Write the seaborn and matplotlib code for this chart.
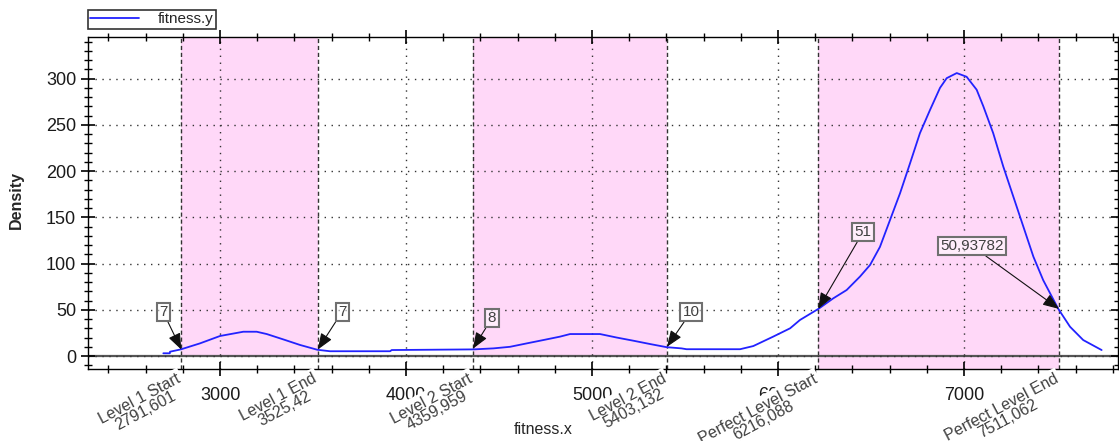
import matplotlib
matplotlib.use("Agg")
import matplotlib.pyplot as plt
import matplotlib.transforms as mtransforms
from matplotlib.ticker import MultipleLocator
import seaborn as sns

# density curve
fitness_x = [2695, 2730, 2731, 2789, 2892, 3000, 3125, 3197, 3251, 3340, 3430, 3523,
             3591, 3914, 3923, 4362, 4470, 4559, 4649, 4738, 4828, 4882, 5043, 5133,
             5222, 5312, 5401, 5481, 5508, 5796, 5867, 5974, 6065, 6118, 6217, 6297,
             6369, 6441, 6495, 6548, 6602, 6656, 6710, 6763, 6817, 6871, 6907, 6961,
             7014, 7068, 7104, 7157, 7211, 7265, 7319, 7373, 7426, 7507, 7570, 7641,
             7740]
fitness_y = [3, 3, 4.7, 7.2, 13.7, 21.7, 26.3, 26.3, 23.8, 18, 12, 6.8,
             5.2, 5.2, 6.5, 7.2, 8.3, 10, 13.7, 17.3, 21, 23.8, 23.8, 20,
             16.6, 13, 9.6, 8.3, 7.4, 7.4, 10.8, 21, 30, 39, 51, 62.4,
             71.4, 86, 98.5, 118, 147, 176, 208.5, 241, 266, 290, 300.5, 306,
             302, 288, 270, 241, 205, 172.5, 140, 107.5, 82, 51, 31.7, 17.3,
             6.5]

# levels
level_names = ["Level 1 Start", "Level 1 End", "Level 2 Start", "Level 2 End",
               "Perfect Level Start", "Perfect Level End"]
level_x = [2791.601, 3525.42, 4359.959, 5403.132, 6216.088, 7511.062]
level_lbl = ["2791,601", "3525,42", "4359,959", "5403,132", "6216,088", "7511,062"]

# boxed value annotations
note_text = ["7", "7", "8", "10", "51", "50,93782"]
note_y = [7, 7, 8, 10, 51, 50.93782]
note_tx = [2694, 3656, 4462, 5532, 6457, 7043]
note_ty = [47.7, 47.7, 41, 47.7, 134, 119]

sns.set_style("ticks")
plt.rcParams["font.family"] = ["Liberation Sans", "DejaVu Sans"]

fig = plt.figure(figsize=(11.19, 4.41), dpi=100)
ax = fig.add_axes([88/1119, 1-369/441, 1030/1119, 332/441])

pink = "#ffd8f8"
ax.axvspan(level_x[0], level_x[1], ymin=14/359, color=pink, lw=0, zorder=0)
ax.axvspan(level_x[2], level_x[3], ymin=14/359, color=pink, lw=0, zorder=0)
ax.axvspan(level_x[4], level_x[5], color=pink, lw=0, zorder=0)
for lx in level_x:
    ax.axvline(lx, color="#333333", ls=(0, (3, 2)), lw=1, zorder=1)

ax.axhline(0, color="#555555", lw=1.6, zorder=1)

sns.lineplot(x=fitness_x, y=fitness_y, ax=ax, color="#2222ff", lw=1.3,
             label="fitness.y", sort=False, zorder=3)

ax.set_xlim(2290, 7828)
ax.set_ylim(-14, 345)
ax.xaxis.set_major_locator(MultipleLocator(1000))
ax.xaxis.set_minor_locator(MultipleLocator(200))
ax.yaxis.set_major_locator(MultipleLocator(50))
ax.yaxis.set_minor_locator(MultipleLocator(10))
ax.grid(True, which="major", ls=(0, (1, 4)), color="#333333", lw=1)
ax.set_axisbelow(False)
ax.tick_params(which="both", top=True, right=True, direction="inout",
               colors="black", labelcolor="#1a1a1a", labelsize=13)
ax.tick_params(which="major", length=10, width=1.2)
ax.tick_params(which="minor", length=6, width=1)
ax.tick_params(axis="x", which="major", pad=8)
for s in ax.spines.values():
    s.set_visible(True)
    s.set_color("black")
    s.set_linewidth(1)

ax.set_ylabel("Density", fontsize=11.5, fontweight="bold")
ax.yaxis.set_label_coords(-0.062, 0.51)
ax.set_xlabel("fitness.x", fontsize=11.5)
ax.xaxis.set_label_coords(0.442, -0.16)

# rotated level labels under the axis, white background hides tick labels
trans = mtransforms.blended_transform_factory(ax.transData, ax.transAxes)
for name, lx, lb in zip(level_names, level_x, level_lbl):
    ax.text(lx - 30, -0.006, name + "\n" + lb, transform=trans, rotation=28,
            rotation_mode="anchor", ha="right", va="top", multialignment="center",
            fontsize=11.5, color="#404040", zorder=5, linespacing=0.85,
            bbox=dict(fc="white", ec="none", pad=1.8))

for t, lx, ly, tx, ty in zip(note_text, level_x, note_y, note_tx, note_ty):
    ax.annotate(t, xy=(lx, ly), xytext=(tx, ty), ha="center", va="center",
                fontsize=11, color="#404040", zorder=6,
                bbox=dict(boxstyle="square,pad=0.15", fc=(1, 1, 1, 0.55),
                          ec="#707070", lw=1.5),
                arrowprops=dict(arrowstyle="-|>,head_length=0.9,head_width=0.35",
                                color="#111111", lw=0.8, shrinkA=0, shrinkB=0))

leg = ax.legend(loc="lower left", bbox_to_anchor=(0, 1.025), frameon=True,
                fancybox=False, fontsize=11, handlelength=3.2, borderpad=0.15,
                borderaxespad=0, handletextpad=1.2)
leg.get_frame().set_edgecolor("black")
leg.get_frame().set_linewidth(1.2)

fig.savefig("out.png", dpi=100)
